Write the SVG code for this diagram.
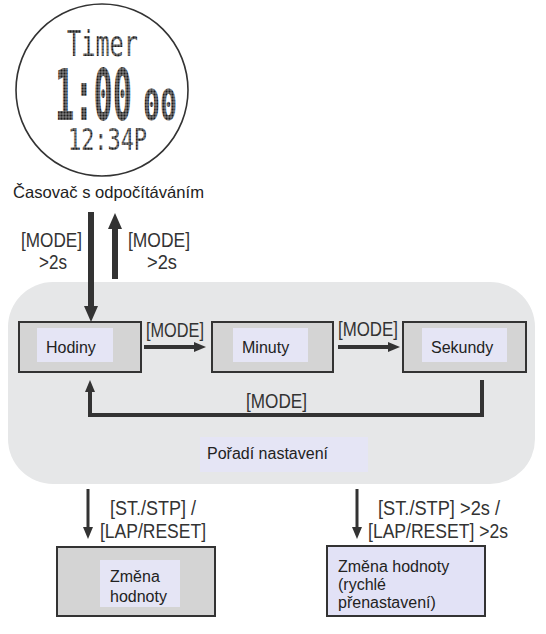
<svg xmlns="http://www.w3.org/2000/svg" width="546" height="634" viewBox="0 0 546 634">
<style>
  .t { font-family: "Liberation Sans", Arial, sans-serif; fill: #222; }
  .n { font-size: 16px; }
  .lbl { font-size: 20px; fill: #333; }
  .outer { fill: #d4d4d4; stroke: #333; stroke-width: 2; }
  .inner { fill: #e5e5f5; }
  .dm { font-family: "DejaVu Sans Mono", monospace; fill: url(#dots); }
  .arr { fill: none; stroke: #333; }
</style>
<defs>
  <pattern id="dots" patternUnits="userSpaceOnUse" width="3" height="3">
    <rect x="0.2" y="0.2" width="2.6" height="2.6" fill="#1e1e1e"/>
  </pattern>
  <marker id="hBig" markerUnits="userSpaceOnUse" markerWidth="16" markerHeight="16" viewBox="0 0 16 16" refX="0" refY="8" orient="auto">
    <path d="M0,1 L16,8 L0,15 z" fill="#333"/>
  </marker>
  <marker id="hMed" markerUnits="userSpaceOnUse" markerWidth="12" markerHeight="12" viewBox="0 0 12 12" refX="0" refY="6" orient="auto">
    <path d="M0,1 L12,6 L0,11 z" fill="#333"/>
  </marker>
  <marker id="hSm" markerUnits="userSpaceOnUse" markerWidth="12" markerHeight="12" viewBox="0 0 12 12" refX="0" refY="6" orient="auto">
    <path d="M0,1 L12,6 L0,11 z" fill="#333"/>
  </marker>
</defs>
<rect width="546" height="634" fill="#fff"/>

<g id="watch">
  <circle cx="102" cy="90" r="86" fill="#fff" stroke="#333" stroke-width="1.6"/>
  <text class="dm" x="67" y="56" font-size="36" textLength="71" lengthAdjust="spacingAndGlyphs">Timer</text>
  <text class="dm" x="55" y="120" font-size="72" font-weight="bold" textLength="77" lengthAdjust="spacingAndGlyphs">1:00</text>
  <text class="dm" x="143" y="120" font-size="42" font-weight="bold" textLength="34" lengthAdjust="spacingAndGlyphs">00</text>
  <text class="dm" x="68" y="150" font-size="30" textLength="79" lengthAdjust="spacingAndGlyphs">12:34P</text>
  <text class="t" x="13" y="198" font-size="16.5" textLength="191" lengthAdjust="spacingAndGlyphs">Časovač s odpočítáváním</text>
</g>

<g id="settings-area">
  <rect x="8" y="282" width="527" height="202" rx="45" ry="45" fill="#e6e7e8"/>
</g>

<g id="hodiny">
  <rect class="outer" x="19" y="322" width="122" height="50"/>
  <rect class="inner" x="37" y="328" width="76" height="34"/>
  <text class="t n" x="46" y="353">Hodiny</text>
</g>
<g id="minuty">
  <rect class="outer" x="212" y="322" width="121" height="50"/>
  <rect class="inner" x="233" y="328" width="75" height="34"/>
  <text class="t n" x="242" y="353">Minuty</text>
</g>
<g id="sekundy">
  <rect class="outer" x="403" y="322" width="123" height="50"/>
  <rect class="inner" x="422" y="328" width="85" height="34"/>
  <text class="t n" x="431" y="353">Sekundy</text>
</g>
<g id="poradi">
  <rect class="inner" x="200" y="437" width="168" height="35"/>
  <text class="t n" x="207" y="459">Pořadí nastavení</text>
</g>
<g id="zmena">
  <rect class="outer" x="57" y="547" width="158" height="69"/>
  <rect class="inner" x="100" y="560" width="80" height="47"/>
  <text class="t n" x="110" y="582">Změna</text>
  <text class="t n" x="110" y="602">hodnoty</text>
</g>
<g id="zmena-rychle">
  <rect x="327" y="546" width="158" height="70" fill="#e2e2f6" stroke="#333" stroke-width="2"/>
  <text class="t n" x="338" y="572">Změna hodnoty</text>
  <text class="t n" x="338" y="590">(rychlé</text>
  <text class="t n" x="338" y="608">přenastavení)</text>
</g>

<g id="connectors">
  <line class="arr" x1="91" y1="212" x2="91" y2="306" stroke-width="6" marker-end="url(#hBig)"/>
  <line class="arr" x1="115" y1="279" x2="115" y2="229" stroke-width="6" marker-end="url(#hBig)"/>
  <line class="arr" x1="144" y1="347" x2="194" y2="347" stroke-width="4" marker-end="url(#hMed)"/>
  <line class="arr" x1="338" y1="347" x2="388" y2="347" stroke-width="4" marker-end="url(#hMed)"/>
  <path class="arr" d="M482,380 V415 H90 V392" stroke-width="4" marker-end="url(#hMed)"/>
  <line class="arr" x1="88" y1="489" x2="88" y2="527" stroke-width="3" marker-end="url(#hSm)"/>
  <line class="arr" x1="357" y1="489" x2="357" y2="527" stroke-width="3" marker-end="url(#hSm)"/>

  <text class="t lbl" x="21" y="247" textLength="61" lengthAdjust="spacingAndGlyphs">[MODE]</text>
  <text class="t lbl" x="39" y="269" textLength="28" lengthAdjust="spacingAndGlyphs">&gt;2s</text>
  <text class="t lbl" x="128" y="247" textLength="62" lengthAdjust="spacingAndGlyphs">[MODE]</text>
  <text class="t lbl" x="147" y="269" textLength="30" lengthAdjust="spacingAndGlyphs">&gt;2s</text>
  <text class="t lbl" x="146" y="337" textLength="58" lengthAdjust="spacingAndGlyphs">[MODE]</text>
  <text class="t lbl" x="338" y="336" textLength="60" lengthAdjust="spacingAndGlyphs">[MODE]</text>
  <text class="t lbl" x="246" y="408" textLength="61" lengthAdjust="spacingAndGlyphs">[MODE]</text>
  <text class="t lbl" x="110" y="515" textLength="86" lengthAdjust="spacingAndGlyphs">[ST./STP] /</text>
  <text class="t lbl" x="100" y="538" textLength="106" lengthAdjust="spacingAndGlyphs">[LAP/RESET]</text>
  <text class="t lbl" x="378" y="515" textLength="122" lengthAdjust="spacingAndGlyphs">[ST./STP] &gt;2s /</text>
  <text class="t lbl" x="368" y="538" textLength="140" lengthAdjust="spacingAndGlyphs">[LAP/RESET] &gt;2s</text>
</g>
</svg>
